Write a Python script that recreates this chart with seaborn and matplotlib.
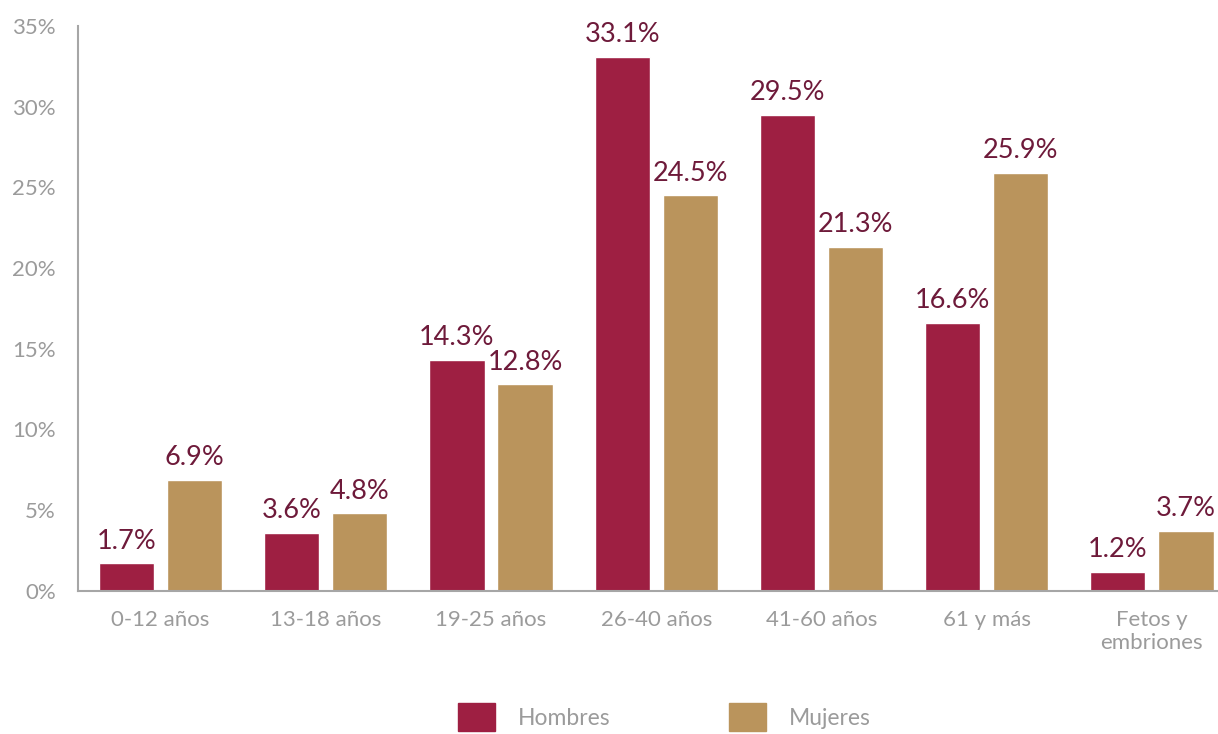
import pandas as pd
import numpy as np
import matplotlib
matplotlib.use("Agg")
import matplotlib.pyplot as plt
import seaborn as sns
from matplotlib.patches import Patch

# Data
categories = ["0-12 años", "13-18 años", "19-25 años", "26-40 años",
              "41-60 años", "61 y más", "Fetos y\nembriones"]
hombres = [1.7, 3.6, 14.3, 33.1, 29.5, 16.6, 1.2]
mujeres = [6.9, 4.8, 12.8, 24.5, 21.3, 25.9, 3.7]
series_names = ["Hombres", "Mujeres"]
ytick_vals = [0, 5, 10, 15, 20, 25, 30, 35]

colors = ["#9E1F42", "#BA945C"]
label_color = "#6E1A3A"
grey = "#9B9B9B"

df = pd.DataFrame({
    "cat": categories * 2,
    "val": hombres + mujeres,
    "sexo": [series_names[0]] * len(categories) + [series_names[1]] * len(categories),
})

sns.set_style("white")
plt.rcParams["font.family"] = ["Lato", "DejaVu Sans"]

fig = plt.figure(figsize=(12.18, 7.34), dpi=100)
ax = fig.add_axes([0.064, 0.195, 0.936, 0.7696])

sns.barplot(data=df, x="cat", y="val", hue="sexo", palette=colors,
            width=0.824, gap=0.19, ax=ax, legend=False, saturation=1)

for cont in ax.containers:
    ax.bar_label(cont, labels=[f"{v:.1f}%" for v in cont.datavalues],
                 padding=7, color=label_color, fontsize=19.5)

ax.set_ylim(0, 35)
ax.set_xlim(-0.5, 6.4)
ax.set_yticks(ytick_vals)
ax.set_yticklabels([f"{v}%" for v in ytick_vals])
ax.tick_params(axis="both", length=0, labelcolor=grey, labelsize=16)
ax.tick_params(axis="y", pad=16)
ax.tick_params(axis="x", pad=14)
for lbl in ax.get_xticklabels():
    lbl.set_linespacing(1.15)
ax.set_xlabel("")
ax.set_ylabel("")
for s in ["top", "right"]:
    ax.spines[s].set_visible(False)
for s in ["left", "bottom"]:
    ax.spines[s].set_color("#A6A6A6")
    ax.spines[s].set_linewidth(1.5)

handles = [Patch(color=c) for c in colors]
leg = fig.legend(handles, series_names, loc="lower center", bbox_to_anchor=(0.5456, -0.024),
                 ncol=2, frameon=False, fontsize=16.5, handlelength=1.6, handleheight=1.5,
                 handletextpad=1.0, columnspacing=5.2)
for t in leg.get_texts():
    t.set_color(grey)

fig.savefig("out.png", dpi=100)
